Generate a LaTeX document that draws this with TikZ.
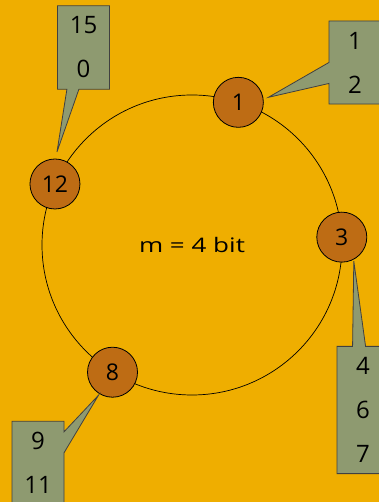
\documentclass[tikz,border=0pt]{standalone}
\usepackage{fontspec}
\setmainfont{Open Sans}
\newfontfamily\widesans[FakeStretch=1.3]{Open Sans}
\usetikzlibrary{shapes.callouts,calc}
\definecolor{ringbg}{RGB}{239,174,0}
\definecolor{peerbrown}{RGB}{190,108,20}
\definecolor{keygreen}{RGB}{142,154,112}

\begin{document}
\begin{tikzpicture}[x=1pt, y=1pt, every node/.style={font=\fontsize{20}{24}\selectfont}]
  \tikzset{
    peer/.style={circle, draw, line width=0.8pt, fill=peerbrown, minimum size=50pt, inner sep=0pt, font=\fontsize{23}{27}\selectfont},
    keybox/.style={rectangle callout, draw=black!75, line width=0.8pt, fill=keygreen, minimum width=52pt, inner ysep=11pt, align=center, font=\fontsize{24}{44}\selectfont}
  }
  \fill[ringbg] (0,0) rectangle (379,502);
  \useasboundingbox (0,0) rectangle (379,502);

  \node[font=\widesans\fontsize{20}{24}\selectfont] (ring) at (192,257) {m = 4 bit};
  \draw[line width=0.7pt] (ring.center) circle (150);

  \node[peer] (n1)  at ($(ring.center)+(72:150)$)  {1};
  \node[peer] (n3)  at ($(ring.center)+(3:150)$)   {3};
  \node[peer] (n8)  at ($(ring.center)+(238:150)$) {8};
  \node[peer] (n12) at ($(ring.center)+(156:150)$) {12};

  \node[keybox, callout pointer width=12pt, callout absolute pointer={($(n12)+(2,32)$)}]  (k12) at (83.5,454.5) {15\\0};
  \node[keybox, callout pointer width=21pt, callout absolute pointer={($(n1)+(30,5)$)}]   (k1)  at (355,439.5)  {1\\2};
  \node[keybox, callout pointer width=13pt, callout absolute pointer={($(n3)+(12,-24)$)}] (k3)  at (363,92)     {4\\6\\7};
  \node[keybox, callout pointer width=21pt, callout absolute pointer={($(n8)+(-14,-23)$)}] (k8)  at (38,39)      {9\\11};
\end{tikzpicture}
\end{document}
